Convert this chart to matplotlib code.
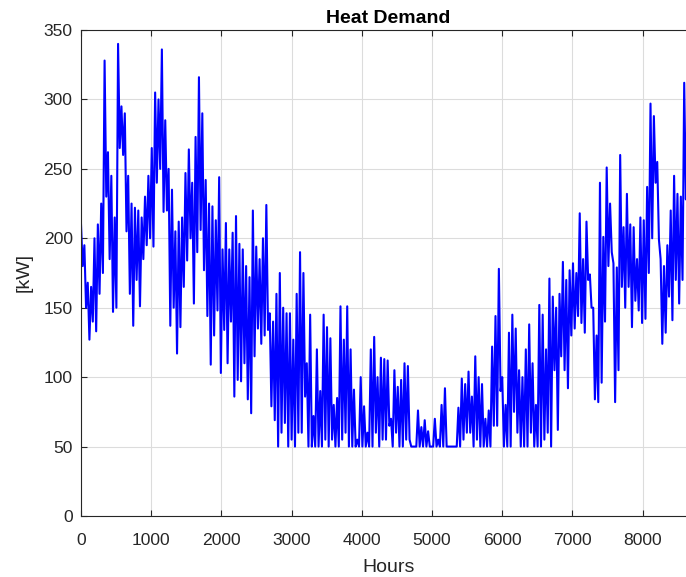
import numpy as np
import matplotlib
matplotlib.use('Agg')
import matplotlib.pyplot as plt

# ── data: daily samples of heat demand in kW ────────────────────────────────
jan_apr = [
    210, 180, 195, 150, 168, 127, 165, 140, 200, 133, 210, 160, 225, 175, 328, 230, 262, 185, 245, 147,
    215, 150, 340, 265, 295, 260, 290, 205, 245, 160, 225, 137, 222, 170, 220, 151, 215, 185, 230, 195,
    245, 200, 265, 194, 305, 240, 300, 250, 336, 219, 285, 220, 250, 137, 235, 150, 205, 117, 212, 136,
    215, 165, 247, 184, 264, 200, 240, 153, 273, 190, 316, 206, 290, 177, 242, 144, 225, 109, 223, 130,
    213, 148, 244, 103, 192, 134, 211, 110, 192, 140, 204, 86,
]
apr_jun = [
    216, 98, 196, 97, 192, 110, 180, 84, 172, 74, 220, 115, 194, 135, 185, 124, 200, 130, 224, 134,
    146, 79, 140, 69, 160, 50, 175, 60, 150, 67, 146, 50, 146, 55, 127, 50, 160, 60, 190, 60,
    175, 86, 110, 50, 145, 50, 72, 50, 120, 50, 90, 50, 145, 55, 136, 50, 128, 55, 80, 50,
    85, 50, 151, 55, 127, 60, 151, 50, 120, 50, 91, 50, 55, 50, 100, 50, 79, 50, 60, 50,
    120, 50, 129, 60, 100, 50, 114, 55, 113, 55, 112, 65,
]
jul_sep = [
    70, 50, 105, 60, 93, 50, 98, 50, 110, 55, 108, 55, 50, 50, 50, 50, 76, 50, 64, 50,
    69, 50, 61, 50, 50, 50, 70, 50, 55, 50, 80, 50, 92, 50, 50, 50, 50, 50, 50, 50,
    78, 50, 99, 55, 95, 60, 104, 60, 86, 50, 115, 55, 100, 50, 95, 50, 70, 50, 76, 50,
    122, 65, 144, 65, 178, 90, 100, 50, 80, 50, 132, 50, 145, 75, 135, 60, 105, 50, 100, 50,
    120, 50, 138, 60, 110, 50, 80, 50, 152, 50, 145, 55,
]
oct_dec = [
    120, 60, 171, 50, 158, 105, 150, 62, 160, 115, 183, 105, 170, 92, 177, 130, 182, 135, 175, 144,
    218, 139, 185, 132, 212, 170, 174, 150, 150, 84, 130, 82, 240, 96, 201, 140, 251, 180, 225, 190,
    182, 82, 179, 105, 260, 165, 208, 150, 232, 165, 210, 136, 208, 155, 185, 148, 215, 139, 213, 142,
    237, 175, 297, 200, 288, 240, 255, 199, 185, 124, 180, 132, 195, 158, 220, 141, 245, 170, 232, 153,
    230, 170, 312, 228, 300, 240, 290, 230, 280,
]

heat_kw = np.array(jan_apr + apr_jun + jul_sep + oct_dec, dtype=float)
hours = np.arange(len(heat_kw)) * 24

x_ticks = np.arange(0, 8001, 1000)
y_ticks = np.arange(0, 351, 50)

# ── figure (MATLAB look, right edge cropped) ──────────────────────────────
plt.rcParams['font.family'] = ['Liberation Sans', 'DejaVu Sans']
ink = '#262626'

fig = plt.figure(figsize=(6.86, 5.77), dpi=100)
ax = fig.add_axes([81 / 686, 61 / 577, 615 / 686, 486 / 577])

ax.plot(hours, heat_kw, color='#0000ff', linewidth=1.5)

ax.set_xlim(0, 8760)
ax.set_ylim(0, 350)
ax.set_xticks(x_ticks)
ax.set_yticks(y_ticks)
ax.grid(True, color='#dcdcdc', linewidth=0.8)
ax.set_axisbelow(True)

ax.tick_params(direction='in', top=True, right=True, length=4, width=0.8,
               colors=ink, labelsize=12.6)
ax.tick_params(axis='x', pad=12)
ax.tick_params(axis='y', pad=6)
for s in ax.spines.values():
    s.set_color(ink)
    s.set_linewidth(0.8)

ax.set_title('Heat Demand', fontsize=14, fontweight='bold', color='black', pad=5)
ax.set_xlabel('Hours', fontsize=14, color=ink, labelpad=8)
ax.set_ylabel('[kW]', fontsize=14, color=ink, labelpad=8)

fig.savefig('out.png', dpi=100)
